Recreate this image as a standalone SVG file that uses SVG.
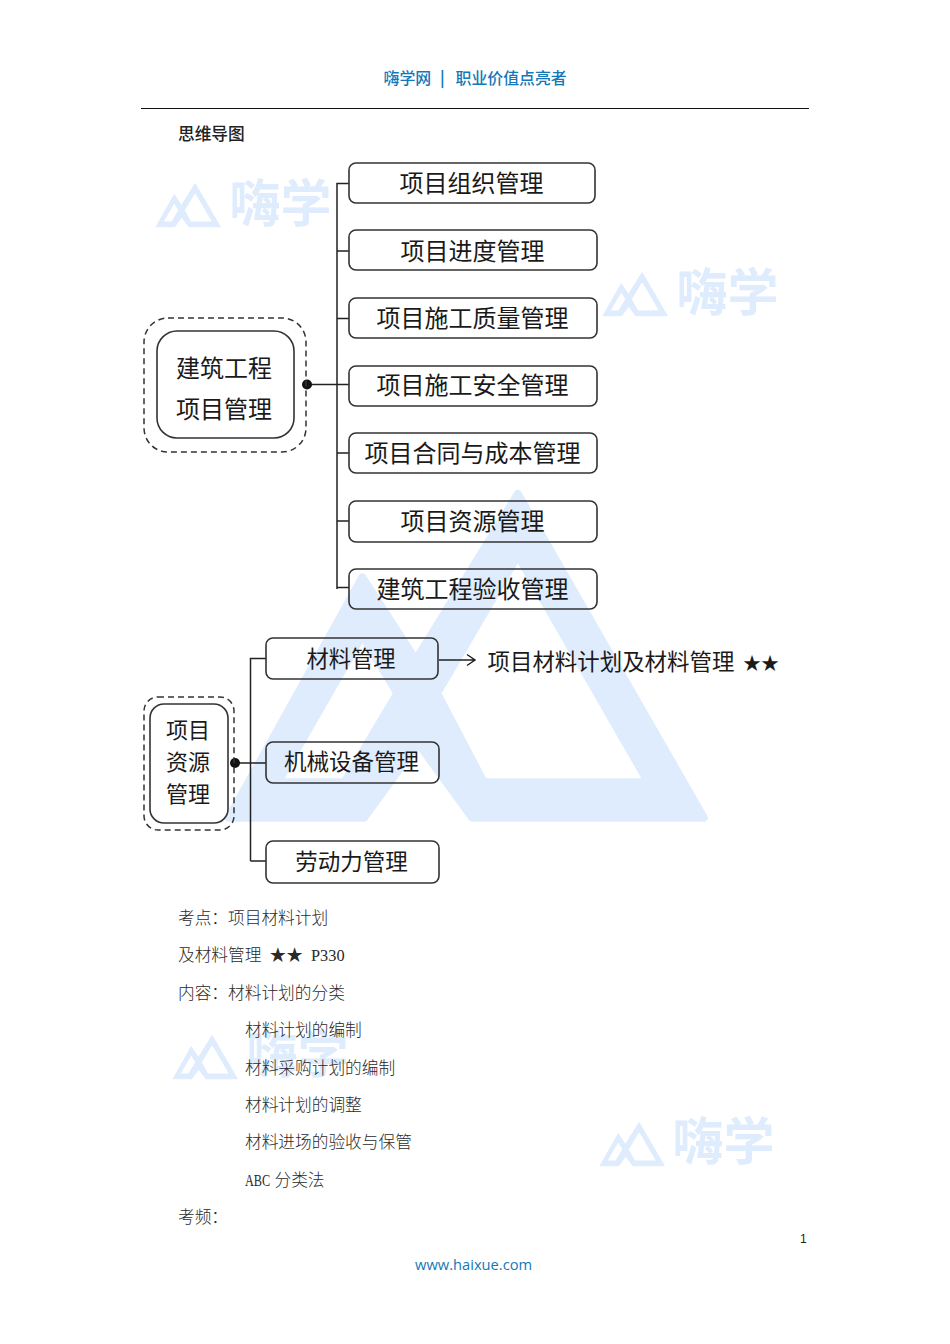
<svg xmlns="http://www.w3.org/2000/svg" xmlns:xlink="http://www.w3.org/1999/xlink" width="950" height="1344" viewBox="0 0 950 1344">
<style>
text{font-family:"Noto Sans CJK SC","Noto Sans",sans-serif}
.node{fill:none;stroke:#333;stroke-width:1.6}
.dash{fill:none;stroke:#333;stroke-width:1.5;stroke-dasharray:6 4}
.conn{fill:none;stroke:#222;stroke-width:1.5}
.nt{font-size:24px;fill:#1a1a1a;text-anchor:middle}
.bt{font-size:16.7px;fill:#2a2a2a;font-weight:300;font-family:"Noto Sans CJK SC",serif}
.lat{font-family:"Liberation Serif",serif;font-size:16.7px;fill:#2a2a2a}
.wm{font-size:51px;fill:#dfecfd;font-weight:700}
.lg{fill:#dfecfd;stroke:#dfecfd;stroke-linejoin:round;stroke-width:24;fill-rule:evenodd}
.hd{font-size:15.9px;fill:#1478b8;font-weight:500}
</style>
<defs>
<path id="logo" class="lg" d="M970,42L1520,1013H835L675,790L515,1013H115L510,292L668,540ZM970,226L731,640L869,907H1356ZM510,466L260,907H457L614,640Z"/>
</defs>
<rect width="950" height="1344" fill="#fff"/>
<g id="watermarks">
<use xlink:href="#logo" href="#logo" transform="translate(190,480) scale(.338,.33333)"/>
<use xlink:href="#logo" href="#logo" transform="translate(151,182) scale(.0455,.0442)"/>
<text class="wm" x="229.500" y="222">嗨学</text>
<use xlink:href="#logo" href="#logo" transform="translate(598,271) scale(.0455,.0442)"/>
<text class="wm" x="676.500" y="311">嗨学</text>
<use xlink:href="#logo" href="#logo" transform="translate(168,1034) scale(.0455,.0442)"/>
<text class="wm" x="246.500" y="1073">嗨学</text>
<use xlink:href="#logo" href="#logo" transform="translate(595,1121) scale(.0455,.0442)"/>
<text class="wm" x="672.500" y="1160">嗨学</text>
</g>
<g id="header">
<text class="hd" x="383.500" y="84">嗨学网</text>
<text class="hd" x="440" y="84" style="font-weight:700">|</text>
<text class="hd" x="455.500" y="84">职业价值点亮者</text>
<line x1="141" y1="108.500" x2="809" y2="108.500" stroke="#111" stroke-width="1.2"/>
<text x="178" y="139.500" font-size="16.7" fill="#222" font-weight="500">思维导图</text>
</g>
<g id="connectors">
<path class="conn" d="M307,384.500H349M337,589V183.500H349M337,251H349M337,318.500H349M337,453H349M337,521H349M337,587.500H349"/>
<circle cx="307" cy="384.500" r="5" fill="#111"/>
<path class="conn" d="M235,763H266M250.500,861V658.500H266M250.500,861H266"/>
<circle cx="235" cy="763" r="5" fill="#111"/>
<path class="conn" d="M439,660H475M467,654.500L475,660L467,665.500"/>
</g>
<g id="root1"><rect class="dash" x="144" y="318" width="162" height="134" rx="24"/><rect class="node" x="157" y="331" width="137" height="107" rx="20"/><text class="nt" x="224" y="377">建筑工程</text><text class="nt" x="224" y="418">项目管理</text></g>
<g id="n1"><rect class="node" x="349" y="163" width="246" height="40" rx="7"/><text class="nt" x="471.500" y="192">项目组织管理</text></g>
<g id="n2"><rect class="node" x="349" y="230" width="248" height="40" rx="7"/><text class="nt" x="472.500" y="259.500">项目进度管理</text></g>
<g id="n3"><rect class="node" x="349" y="298" width="248" height="40" rx="7"/><text class="nt" x="472.500" y="326.500">项目施工质量管理</text></g>
<g id="n4"><rect class="node" x="349" y="366" width="248" height="40" rx="7"/><text class="nt" x="472.500" y="393.500">项目施工安全管理</text></g>
<g id="n5"><rect class="node" x="349" y="433" width="248" height="40" rx="7"/><text class="nt" x="472.500" y="461.500">项目合同与成本管理</text></g>
<g id="n6"><rect class="node" x="349" y="501" width="248" height="41" rx="7"/><text class="nt" x="472.500" y="529.500">项目资源管理</text></g>
<g id="n7"><rect class="node" x="349" y="569" width="248" height="40" rx="7"/><text class="nt" x="472.500" y="597.500">建筑工程验收管理</text></g>
<g id="root2"><rect class="dash" x="144" y="697" width="90" height="133" rx="14"/><rect class="node" x="150" y="704" width="78" height="119" rx="14"/><text class="nt" x="188" y="738" style="font-size:22px">项目</text><text class="nt" x="188" y="770" style="font-size:22px">资源</text><text class="nt" x="188" y="802" style="font-size:22px">管理</text></g>
<g id="m1"><rect class="node" x="266" y="638" width="172" height="41" rx="7"/><text class="nt" x="351" y="667" style="font-size:22.300px">材料管理</text></g>
<g id="m2"><rect class="node" x="266" y="742" width="173" height="41" rx="7"/><text class="nt" x="351.500" y="769.500" style="font-size:22.500px">机械设备管理</text></g>
<g id="m3"><rect class="node" x="266" y="841" width="173" height="42" rx="7"/><text class="nt" x="351.500" y="869.500" style="font-size:22.500px">劳动力管理</text></g>
<text id="m1note" x="487.500" y="670" fill="#1a1a1a" style="font-size:22.450px">项目材料计划及材料管理<tspan x="743" style="font-size:18px">★★</tspan></text>
<g id="body">
<text class="bt" x="178" y="923.500">考点：项目材料计划</text>
<text class="bt" x="178" y="961">及材料管理<tspan x="269.500">★★</tspan></text>
<text class="lat" transform="translate(311,961) scale(.977,1)">P330</text>
<text class="bt" x="178" y="998.500">内容：材料计划的分类</text>
<text class="bt" x="245" y="1035.500">材料计划的编制</text>
<text class="bt" x="245" y="1073.500">材料采购计划的编制</text>
<text class="bt" x="245" y="1110.500">材料计划的调整</text>
<text class="bt" x="245" y="1148">材料进场的验收与保管</text>
<text class="lat" transform="translate(245,1185.500) scale(.735,1)">ABC</text>
<text class="bt" x="274.500" y="1185.500">分类法</text>
<text class="bt" x="178" y="1222.500">考频：</text>
</g>
<g id="footer">
<text x="800" y="1243" font-size="12" fill="#222" style="font-family:'Liberation Sans',sans-serif">1</text>
<text x="415" y="1270" font-size="14.700" fill="#1478b8" style="font-family:'Open Sans',sans-serif">www.haixue.com</text>
</g>
</svg>
